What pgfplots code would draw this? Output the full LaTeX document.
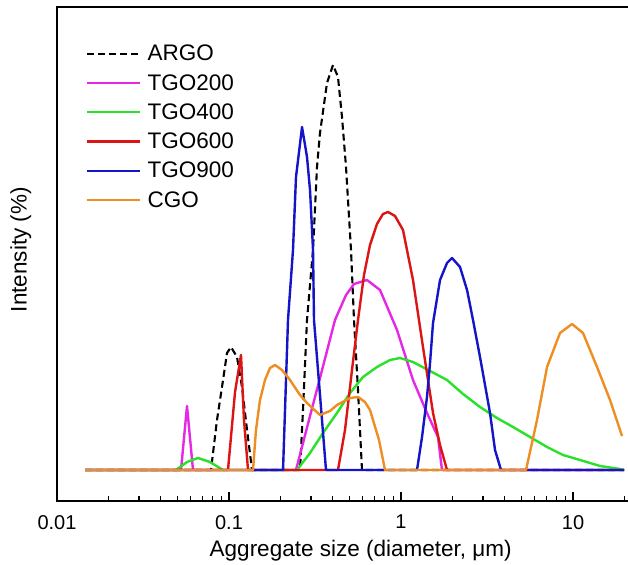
\documentclass[border=0pt]{standalone}
\usepackage{fontspec}
\setmainfont{Liberation Sans}
\usepackage{pgfplots}
\pgfplotsset{compat=1.18}
\definecolor{cmag}{RGB}{228,40,228}
\definecolor{cgrn}{RGB}{40,225,40}
\definecolor{cred}{RGB}{220,20,20}
\definecolor{cblu}{RGB}{20,20,200}
\definecolor{corg}{RGB}{238,142,34}
\begin{document}
\begin{tikzpicture}
\begin{axis}[
  xmode=log, log basis x=10,
  scale only axis, width=574pt, height=494pt,
  xmin=0.01, xmax=21.73, ymin=-31, ymax=463,
  axis line style={line width=1.4pt},
  xtick={0.01,0.1,1,10}, xticklabels={0.01,0.1,1,10},
  minor xtick={0.02,0.03,0.04,0.05,0.06,0.07,0.08,0.09,0.2,0.3,0.4,0.5,0.6,0.7,0.8,0.9,2,3,4,5,6,7,8,9,20},
  ytick=\empty,
  xtick pos=bottom,
  xtick align=inside,
  major tick length=9pt, minor tick length=4.5pt,
  every tick/.style={line width=1.2pt, black},
  xticklabel style={font=\fontsize{20}{24}\selectfont, inner sep=0pt, yshift=-14pt},
  xlabel={Aggregate size (diameter, μm)},
  xlabel style={font=\fontsize{22.5}{27}\selectfont, at={(axis description cs:0.529,0)}, anchor=north, yshift=-38.5pt, inner sep=0pt},
  ylabel={Intensity (\%)},
  ylabel style={font=\fontsize{22.5}{27}\selectfont, at={(axis description cs:-0.063,0.509)}, anchor=center, inner sep=0pt},
  legend style={at={(axis description cs:0.0453,0.927)}, anchor=north west, draw=none, fill=none,
    font=\fontsize{22.5}{27}\selectfont, row sep=12pt, column sep=6pt, nodes={inner sep=0pt}},
  legend image code/.code={\draw[#1] (0pt,0pt) -- (53pt,0pt);},
  legend cell align=left,
  every axis plot/.append style={line width=2.4pt, line join=round},
]
\coordinate (sw) at (rel axis cs:0,0);
\coordinate (ne) at (rel axis cs:1,1);

\addplot[black, line width=2.1pt, dash pattern=on 7pt off 4pt] coordinates {
(0.01455,0) (0.07857,0) (0.08515,50) (0.09105,83) (0.09736,117) (0.1027,123)
(0.1113,113) (0.1190,83) (0.1273,40) (0.1361,0) (0.2587,0) (0.2693,60)
(0.2841,150) (0.3079,220) (0.3248,303) (0.3381,337) (0.3713,387) (0.4024,405)
(0.4301,393) (0.4539,353) (0.4789,303) (0.4918,270) (0.5120,220) (0.5330,150)
(0.5623,80) (0.5932,0) (19.8,0)};
\addlegendentry{ARGO}

\addplot[cmag] coordinates {
(0.01455,0) (0.0526,0) (0.0570,64) (0.06176,0) (0.2452,0) (0.2958,54)
(0.3381,92) (0.4133,150) (0.4789,175) (0.5330,186) (0.6341,190) (0.7550,180)
(0.9478,140) (1.174,90) (1.416,57) (1.641,33) (1.731,0) (19.8,0)};
\addlegendentry{TGO200}

\addplot[cgrn] coordinates {
(0.01455,0) (0.04918,0) (0.0570,8) (0.06604,12) (0.07753,8) (0.09228,0)
(0.2485,0) (0.2958,17) (0.3520,37) (0.4244,57) (0.5052,77) (0.6012,93)
(0.7250,103) (0.8630,110) (0.9867,112) (1.174,108) (1.475,99) (1.851,90)
(2.294,76) (2.879,63) (3.615,52) (4.479,43) (5.623,33) (7.063,23)
(8.747,15) (10.98,10) (14.36,4) (18.76,1) (19.8,0)};
\addlegendentry{TGO400}

\addplot[cred] coordinates {
(0.01455,0) (0.09867,0) (0.1084,78) (0.1174,115) (0.1222,50) (0.1290,0)
(0.4301,0) (0.4725,40) (0.5189,100) (0.5623,150) (0.6093,195) (0.6602,225)
(0.7250,246) (0.7859,256) (0.8403,258) (0.9229,254) (1.027,240) (1.174,190)
(1.342,123) (1.535,57) (1.686,25) (1.851,0) (19.8,0)};
\addlegendentry{TGO600}

\addplot[cblu] coordinates {
(0.01455,0) (0.2061,0) (0.2203,150) (0.2355,220) (0.2452,293) (0.2658,343)
(0.2841,313) (0.2958,280) (0.3079,220) (0.3120,150) (0.3664,0) (1.239,0)
(1.325,33) (1.416,73) (1.475,107) (1.535,147) (1.686,190) (1.851,207)
(1.979,212) (2.203,203) (2.420,180) (2.622,150) (2.879,113) (3.079,85)
(3.292,57) (3.520,20) (3.815,0) (19.8,0)};
\addlegendentry{TGO900}

\addplot[corg] coordinates {
(0.01455,0) (0.1379,0) (0.1435,40) (0.1514,70) (0.1619,90) (0.1731,102)
(0.1851,105) (0.2033,100) (0.2263,90) (0.2587,75) (0.2841,67) (0.3381,55)
(0.3866,59) (0.4244,65) (0.5052,72) (0.5623,73) (0.6174,68) (0.6602,60)
(0.7449,30) (0.8071,0) (5.331,0) (6.176,50) (7.063,103) (8.403,137)
(9.867,146) (11.43,137) (13.79,103) (16.41,70) (19.27,34)};
\addlegendentry{CGO}
\end{axis}
\pgfresetboundingbox
\path[use as bounding box] ([shift={(-57pt,-64pt)}]sw) rectangle ([shift={(-3pt,7pt)}]ne);
\end{tikzpicture}
\end{document}
